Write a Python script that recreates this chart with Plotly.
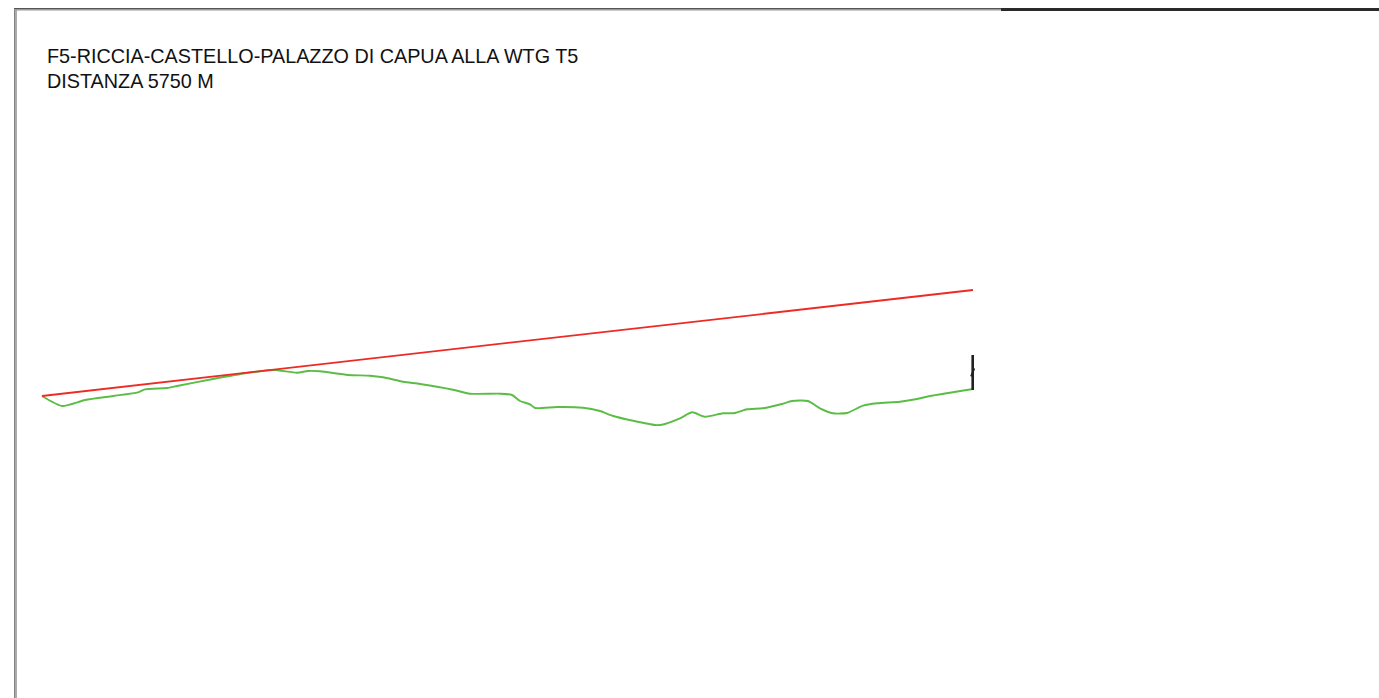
import plotly.graph_objects as go

W, H = 1379, 698

# --- data (distance in m, elevation in m) ---
# terrain profile
profile_dist = [0, 124, 266, 439, 593, 636, 772, 834, 1056, 1266, 1427, 1575, 1643, 1717, 1890,
                2026, 2106, 2230, 2335, 2538, 2643, 2829, 2903, 2952, 3014, 3045, 3181, 3341, 3446,
                3527, 3650, 3786, 3829, 3940, 4015, 4095, 4206, 4280, 4354, 4453, 4570, 4632, 4731,
                4805, 4885, 4972, 5071, 5157, 5299, 5404, 5484, 5608, 5682, 5750]
profile_elev = [704, 694, 700, 704, 707.7, 710.7, 712, 714, 721, 727, 730, 727.3, 729, 728.7, 725,
                724.3, 722.7, 718.3, 716, 710.3, 706.3, 706.3, 705, 699, 695.7, 692, 693, 692.3, 689,
                684, 679.3, 675, 675.3, 681.7, 687.7, 683.3, 686.7, 687, 690.7, 691.7, 696, 699, 699,
                691.7, 686.7, 687, 694.3, 696.7, 698.3, 701, 704, 707.3, 709.3, 711]

# sight line from observer to turbine
sight_dist = [0, 5750]
sight_elev = [704, 810]

# turbine (hub position and height)
turbine_dist = 5750
turbine_base = 711
turbine_height = 34

title_lines = ["F5-RICCIA-CASTELLO-PALAZZO DI CAPUA ALLA WTG T5", "DISTANZA 5750 M"]

# --- figure ---
k = 931 / 5750.0
x_range = [-42 / k, (W - 42) / k]
y_range = [1100 - H, 1100]

fig = go.Figure()
fig.add_trace(go.Scatter(x=profile_dist, y=profile_elev, mode="lines",
                         line=dict(color="#5bbd45", width=1.9, shape="spline", smoothing=0.6),
                         hoverinfo="skip", showlegend=False))
fig.add_trace(go.Scatter(x=sight_dist, y=sight_elev, mode="lines",
                         line=dict(color="#ee2a24", width=1.8),
                         hoverinfo="skip", showlegend=False))
# turbine tower
fig.add_trace(go.Scatter(x=[turbine_dist - 2, turbine_dist - 2],
                         y=[turbine_base - 1, turbine_base + turbine_height],
                         mode="lines", line=dict(color="#222222", width=2.6),
                         hoverinfo="skip", showlegend=False))
# small blade
hub = turbine_base + turbine_height * 0.52
fig.add_trace(go.Scatter(x=[turbine_dist - 12, turbine_dist - 2, turbine_dist + 8],
                         y=[hub - 5, hub, hub + 3],
                         mode="lines", line=dict(color="#222222", width=1.8),
                         hoverinfo="skip", showlegend=False))

shapes = [
    dict(type="rect", xref="paper", yref="paper", x0=14 / W, x1=17 / W, y0=0, y1=1 - 8 / H,
         fillcolor="#acacac", line=dict(width=0)),
    dict(type="rect", xref="paper", yref="paper", x0=14 / W, x1=14.8 / W, y0=0, y1=1 - 8 / H,
         fillcolor="#777777", line=dict(width=0)),
    dict(type="rect", xref="paper", yref="paper", x0=14 / W, x1=1001 / W, y0=1 - 10.5 / H, y1=1 - 8 / H,
         fillcolor="#9a9a9a", line=dict(width=0)),
    dict(type="rect", xref="paper", yref="paper", x0=14 / W, x1=1001 / W, y0=1 - 9 / H, y1=1 - 8 / H,
         fillcolor="#555555", line=dict(width=0)),
    dict(type="rect", xref="paper", yref="paper", x0=1001 / W, x1=1, y0=1 - 11 / H, y1=1 - 8 / H,
         fillcolor="#2a2a2a", line=dict(width=0)),
]

annotations = []
for i, t in enumerate(title_lines):
    annotations.append(dict(text=t, xref="paper", yref="paper", x=45 / W, y=1 - (56 + 25 * i) / H,
                            xanchor="left", yanchor="middle", showarrow=False,
                            font=dict(family="Liberation Sans, Arial", size=19.8, color="#111111")))

fig.update_layout(
    width=W, height=H, margin=dict(l=0, r=0, t=0, b=0),
    paper_bgcolor="white", plot_bgcolor="white",
    xaxis=dict(range=x_range, visible=False, fixedrange=True),
    yaxis=dict(range=y_range, visible=False, fixedrange=True),
    shapes=shapes, annotations=annotations, showlegend=False,
)
fig.write_html("out.html", config={"displayModeBar": False},
               post_script="document.body.style.margin='0';document.body.style.overflow='hidden';")
